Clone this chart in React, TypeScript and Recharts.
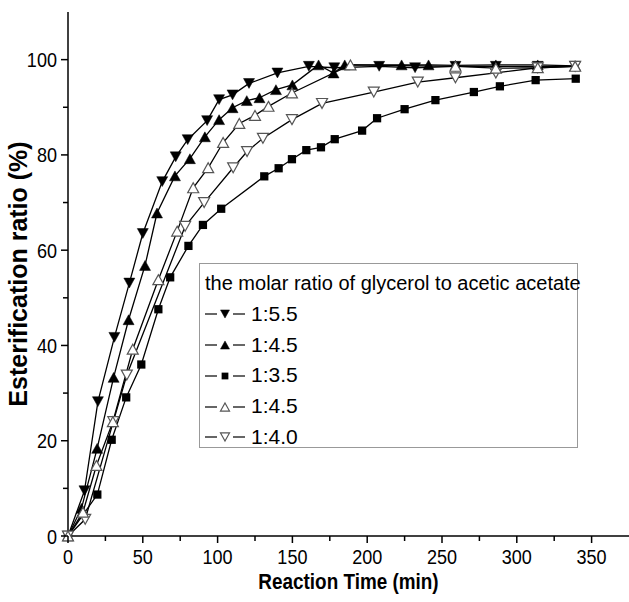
import React from "react";
import { LineChart, Line, XAxis, YAxis, Legend, Label } from "recharts";

// reaction time (min) and esterification ratio (%) per molar ratio
const time55 = [0, 11, 20, 31, 41, 50, 63, 72, 80, 93, 101, 110, 121, 140, 161, 178, 208, 232, 259, 286, 314, 339];
const ratio55 = [0, 9.5, 28.2, 41.7, 53.1, 63.5, 74.4, 79.6, 83.2, 87.2, 91.6, 92.6, 95.0, 97.2, 98.6, 98.3, 98.6, 98.3, 98.6, 98.6, 98.6, 98.6];

const time45 = [0, 9, 19.5, 30.5, 40.5, 51.5, 59.5, 71.5, 81.5, 91.5, 101, 110, 119.5, 128, 139, 150, 167.5, 177.5, 185, 223, 241, 259, 286, 314, 339];
const ratio45 = [0, 5.8, 18.4, 33.3, 45.4, 56.8, 67.8, 75.6, 79.2, 83.8, 87.4, 89.9, 91.4, 92, 93.7, 94.7, 98.9, 97.2, 98.9, 98.9, 98.9, 98.8, 98.9, 98.9, 98.7];

const time35 = [0, 19.6, 29.2, 38.9, 49, 60.4, 68.3, 80.5, 90.2, 102.4, 131.2, 140.8, 149.7, 159.3, 169.1, 178.3, 196.6, 206.6, 225, 245.6, 271.3, 288.7, 312.6, 339.4];
const ratio35 = [0, 8.7, 20.2, 29.1, 36, 47.6, 54.3, 60.9, 65.3, 68.7, 75.5, 77.2, 79.1, 81, 81.6, 83.3, 85.1, 87.7, 89.6, 91.5, 93.2, 94.4, 95.7, 96];

const time45b = [0, 10, 19, 30, 43.3, 60.4, 73, 83.7, 93.7, 103.7, 114.5, 125, 134, 149.7, 188.8, 259, 286, 314, 339];
const ratio45b = [0, 5, 14.8, 24, 39.2, 53.8, 64, 73.1, 77.3, 82.6, 86.6, 88.3, 90.2, 93, 98.9, 98.6, 98.2, 98.3, 98.6];

const time40 = [0, 11.5, 30.3, 39.3, 78.3, 91, 110.4, 119.7, 130.3, 149.7, 169.8, 204.4, 233.8, 259, 286, 314, 339];
const ratio40 = [0, 3.5, 24, 33.8, 65, 70, 77.3, 80.7, 83.5, 87.4, 90.8, 93.2, 95.3, 96.2, 97.2, 98.3, 98.6];

const xTicks = [0, 25, 50, 75, 100, 125, 150, 175, 200, 225, 250, 275, 300, 325, 350];
const yTicks = [0, 10, 20, 30, 40, 50, 60, 70, 80, 90, 100];

const legendTitle = "the molar ratio of glycerol to acetic acetate";

type Kind = "down" | "up" | "square" | "upOpen" | "downOpen";

const series: { name: string; kind: Kind; times: number[]; values: number[] }[] = [
  { name: "1:3.5", kind: "square", times: time35, values: ratio35 },
  { name: "1:4.5", kind: "up", times: time45, values: ratio45 },
  { name: "1:5.5", kind: "down", times: time55, values: ratio55 },
  { name: "1:4.0", kind: "downOpen", times: time40, values: ratio40 },
  { name: "1:4.5 ", kind: "upOpen", times: time45b, values: ratio45b },
];

const legendOrder: { label: string; kind: Kind }[] = [
  { label: "1:5.5", kind: "down" },
  { label: "1:4.5", kind: "up" },
  { label: "1:3.5", kind: "square" },
  { label: "1:4.5", kind: "upOpen" },
  { label: "1:4.0", kind: "downOpen" },
];

const FONT = "'Liberation Sans', Arial, sans-serif";

const Marker = ({ cx, cy, kind, size }: { cx: number; cy: number; kind: Kind; size: number }) => {
  const w = size;
  const h = size * 0.9;
  const open = kind === "upOpen" || kind === "downOpen";
  const fill = open ? "#fff" : "#000";
  const stroke = open ? "#555" : "#000";
  if (kind === "square") {
    const s = size * 0.75;
    return <rect x={cx - s / 2} y={cy - s / 2} width={s} height={s} fill="#000" />;
  }
  const pts =
    kind === "up" || kind === "upOpen"
      ? `${cx},${cy - h / 2} ${cx + w / 2},${cy + h / 2} ${cx - w / 2},${cy + h / 2}`
      : `${cx},${cy + h / 2} ${cx + w / 2},${cy - h / 2} ${cx - w / 2},${cy - h / 2}`;
  return <polygon points={pts} fill={fill} stroke={stroke} strokeWidth={open ? 1.2 : 0.5} />;
};

// condensed look: regular font squeezed horizontally
const Narrow = ({ x, y, anchor, size, bold, children }: any) => (
  <text
    transform={`translate(${x},${y}) scale(0.86,1)`}
    textAnchor={anchor}
    fontSize={size}
    fontWeight={bold ? "bold" : "normal"}
    fontFamily={FONT}
    fill="#000"
  >
    {children}
  </text>
);

const XTick = (props: any) => {
  const { x, y, payload } = props;
  const major = payload.value % 50 === 0;
  return (
    <g>
      <line x1={x} y1={y} x2={x} y2={y + (major ? 7 : 5)} stroke="#000" strokeWidth={1.5} />
      {major && (
        <Narrow x={x} y={y + 28} anchor="middle" size={21}>
          {payload.value}
        </Narrow>
      )}
    </g>
  );
};

const YTick = (props: any) => {
  const { x, y, payload } = props;
  const major = payload.value % 20 === 0;
  return (
    <g>
      <line x1={x} y1={y} x2={x - (major ? 7 : 5)} y2={y} stroke="#000" strokeWidth={1.5} />
      {major && (
        <Narrow x={x - 11} y={y + 7.5} anchor="end" size={21}>
          {payload.value}
        </Narrow>
      )}
    </g>
  );
};

const LegendBox = () => (
  <div
    style={{
      width: "100%",
      height: "100%",
      boxSizing: "border-box",
      border: "1px solid #999",
      background: "#fff",
      fontFamily: FONT,
      fontSize: 20,
      color: "#000",
      padding: "4px 0 0 5px",
      lineHeight: "30.8px",
      whiteSpace: "nowrap",
    }}
  >
    <div>{legendTitle}</div>
    {legendOrder.map((item, i) => (
      <div key={i} style={{ display: "flex", alignItems: "center", height: 30.8 }}>
        <svg width={44} height={16}>
          <line x1={0} y1={8} x2={12} y2={8} stroke="#000" strokeWidth={1.2} />
          <line x1={28} y1={8} x2={40} y2={8} stroke="#000" strokeWidth={1.2} />
          <Marker cx={20} cy={8} kind={item.kind} size={9} />
        </svg>
        <span style={{ marginLeft: 2, fontSize: 21 }}>{item.label}</span>
      </div>
    ))}
  </div>
);

export default function App() {
  return (
    <div style={{ position: "absolute", left: 0, top: 0, background: "#fff" }}>
      <LineChart width={629} height={602} margin={{ top: 12, right: 0, bottom: 0, left: 0 }}>
        <XAxis
          dataKey="time"
          type="number"
          domain={[0, 375]}
          ticks={xTicks}
          interval={0}
          tickSize={0}
          tickMargin={0}
          tickLine={false}
          tick={<XTick />}
          height={66}
          axisLine={{ stroke: "#000", strokeWidth: 1.5 }}
          allowDuplicatedCategory={false}
        >
          <Label
            content={({ viewBox }: any) => (
              <Narrow x={viewBox.x + viewBox.width / 2} y={589} anchor="middle" size={22} bold>
                Reaction Time (min)
              </Narrow>
            )}
          />
        </XAxis>
        <YAxis
          dataKey="ratio"
          type="number"
          domain={[0, 110]}
          ticks={yTicks}
          interval={0}
          tickSize={0}
          tickMargin={0}
          tickLine={false}
          tick={<YTick />}
          width={68}
          axisLine={{ stroke: "#000", strokeWidth: 1.5 }}
        >
          <Label
            content={({ viewBox }: any) => (
              <text
                transform={`translate(27,${viewBox.y + viewBox.height / 2}) rotate(-90)`}
                textAnchor="middle"
                fontSize={25}
                fontWeight="bold"
                fontFamily={FONT}
                fill="#000"
              >
                Esterification ratio (%)
              </text>
            )}
          />
        </YAxis>
        <Legend
          verticalAlign="middle"
          layout="horizontal"
          content={() => <LegendBox />}
          wrapperStyle={{ position: "absolute", left: 199, top: 263, width: 379, height: 185 }}
        />
        {series.map((s) => (
          <Line
            key={s.name}
            name={s.name}
            data={s.times.map((t, i) => ({ time: t, ratio: s.values[i] }))}
            dataKey="ratio"
            type="linear"
            stroke="#000"
            strokeWidth={1.3}
            isAnimationActive={false}
            dot={(p: any) => (
              <Marker key={`${s.kind}-${p.index}`} cx={p.cx} cy={p.cy} kind={s.kind} size={11} />
            )}
            activeDot={false}
          />
        ))}
      </LineChart>
    </div>
  );
}
